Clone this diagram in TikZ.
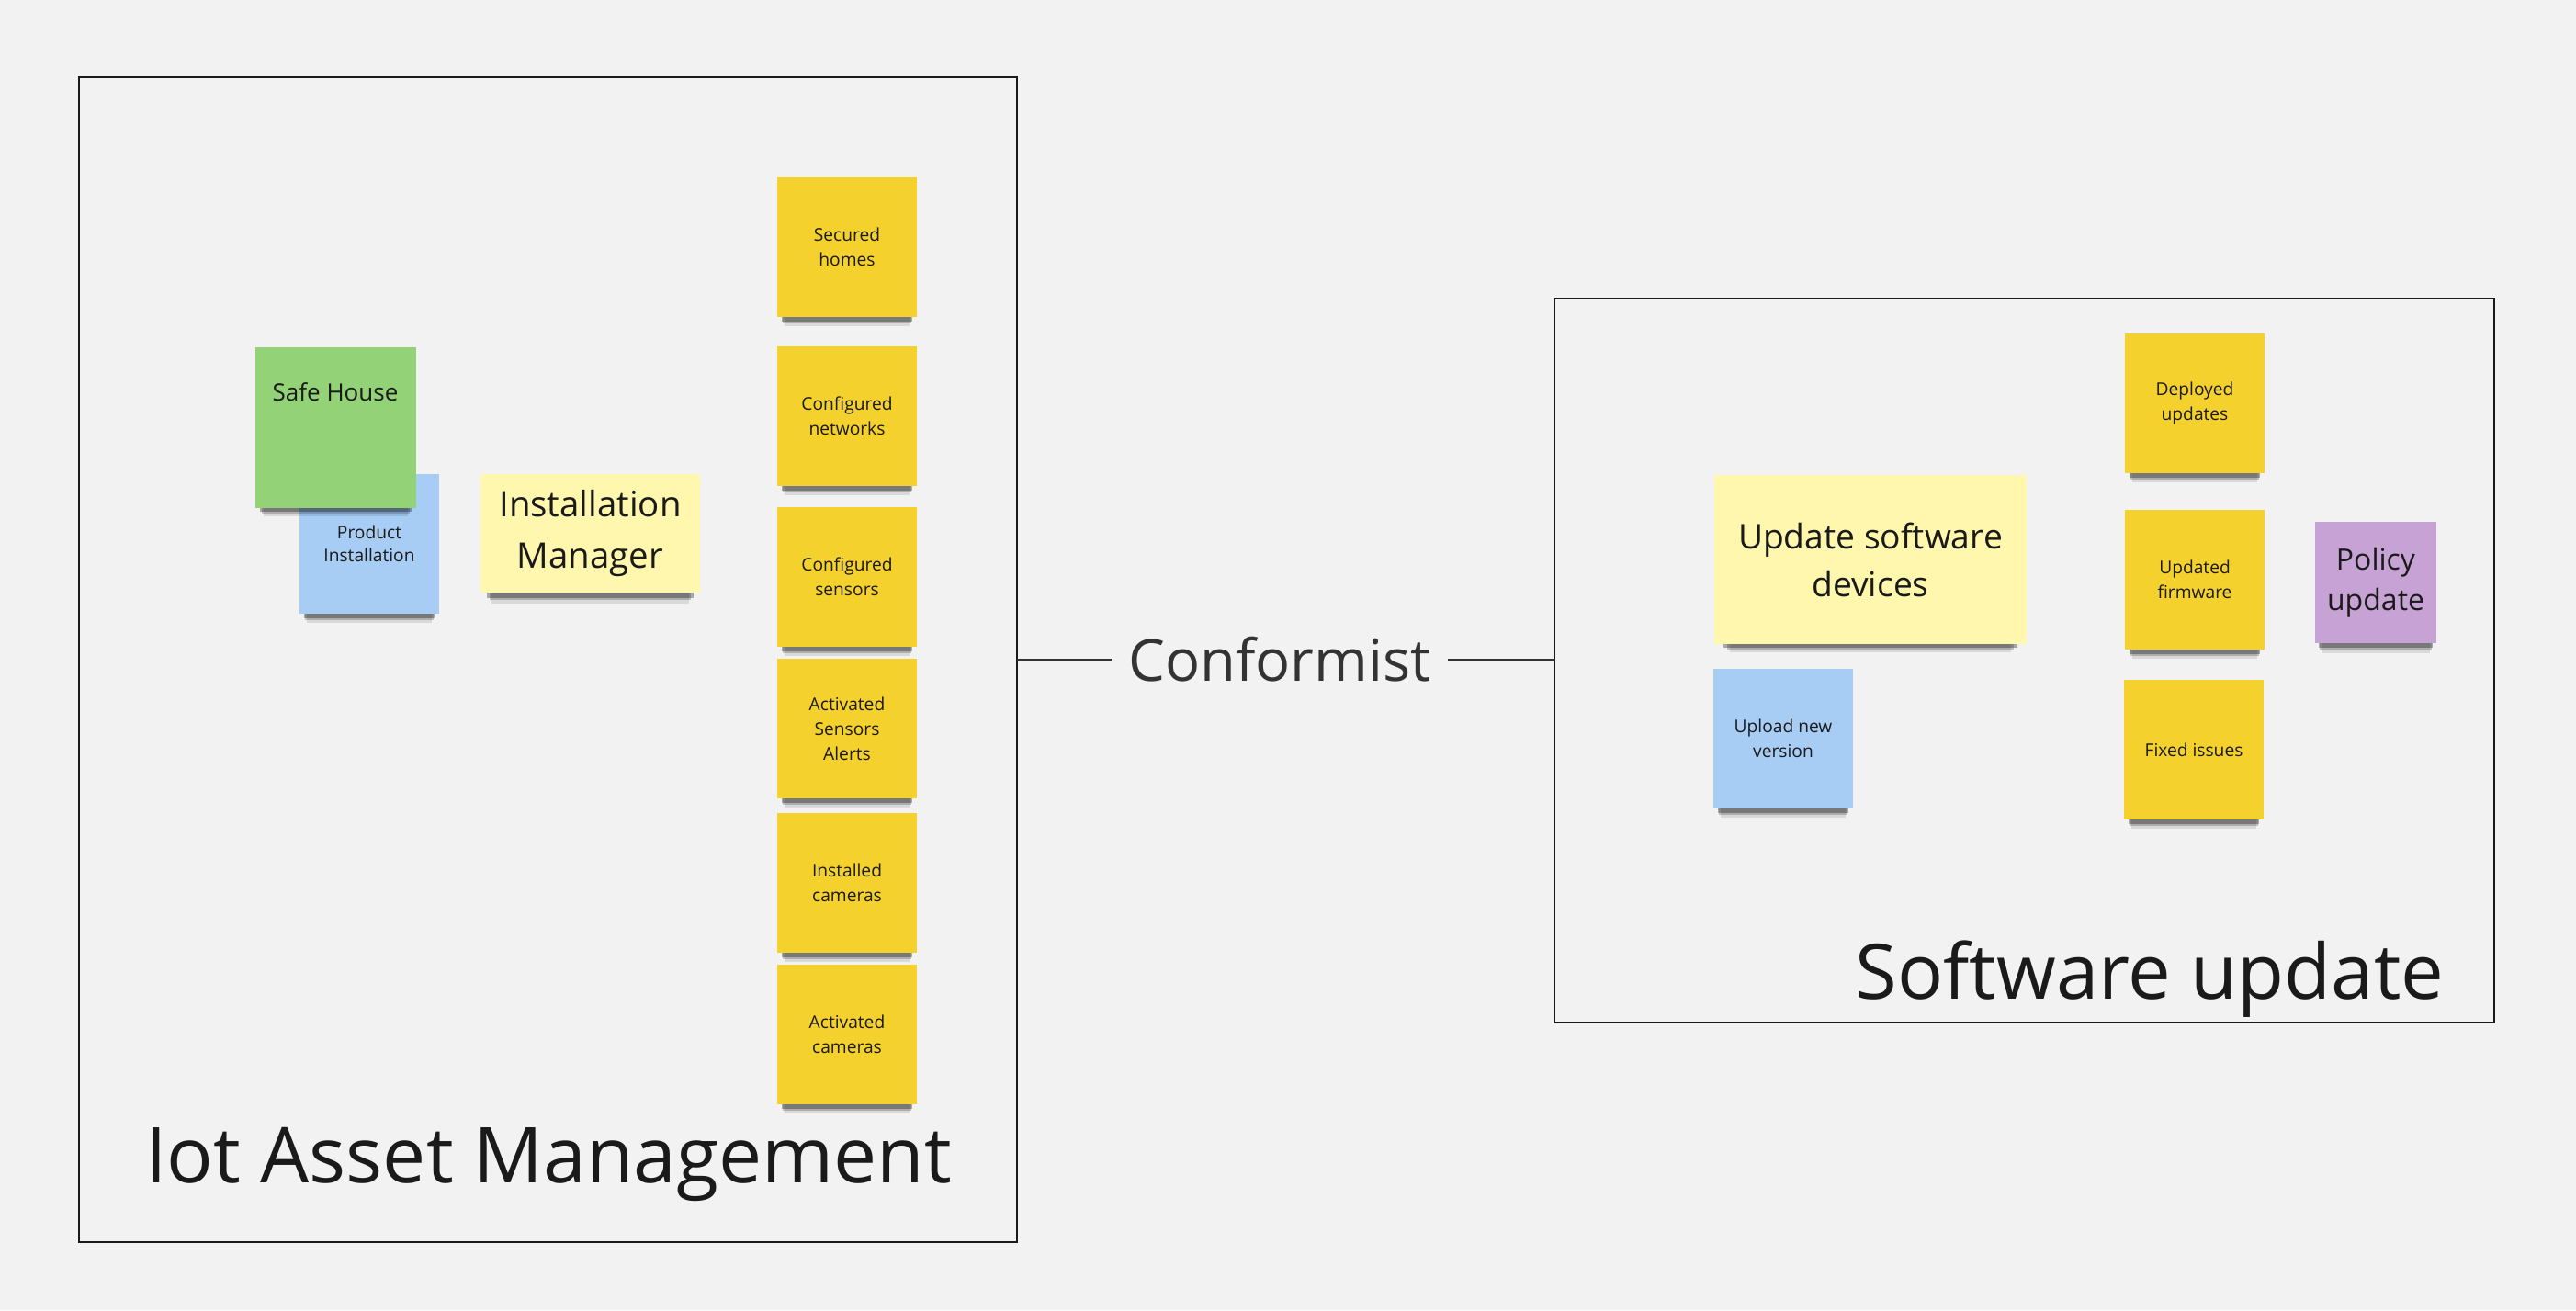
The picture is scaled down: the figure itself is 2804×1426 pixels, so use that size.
\documentclass[tikz,border=0pt]{standalone}
\usepackage{fontspec}
\setmainfont{Open Sans}
\usetikzlibrary{shadows}
\definecolor{bggray}{HTML}{F2F2F2}
\definecolor{inkblack}{HTML}{1A1A1A}
\definecolor{inkgray}{HTML}{333333}
\definecolor{stickyyellow}{HTML}{F5D12E}
\definecolor{paleyellow}{HTML}{FFF7AD}
\definecolor{stickygreen}{HTML}{93D276}
\definecolor{stickyblue}{HTML}{A8CDF5}
\definecolor{stickyviolet}{HTML}{C7A3D5}
\tikzset{
  sticky/.style={anchor=north west, inner sep=1pt, outer sep=0pt, align=center, text=inkblack,
    general shadow={fill=black, opacity=.10, shadow scale=.90, shadow yshift=-5pt},
    general shadow={fill=black, opacity=.20, shadow scale=.92, shadow yshift=-3.5pt},
    general shadow={fill=black, opacity=.30, shadow scale=.94, shadow yshift=-2.5pt}},
  smallsticky/.style={sticky, minimum width=38pt, minimum height=38pt, font=\fontsize{4.8}{6.75}\selectfont},
  boundary/.style={draw=inkblack, line width=0.5pt, anchor=north west, inner sep=0pt, outer sep=0pt},
  contextline/.style={draw=inkgray, line width=0.5pt},
}
\begin{document}
\begin{tikzpicture}[x=0.25pt,y=0.25pt,yscale=-1,xscale=1]
    %set diagram left start at 0, width 2804, height 1426
    \fill[bggray] (0,0) rectangle (2804,1426);
    \useasboundingbox (0,0) rectangle (2804,1426);

    %Shape: Rectangle [bounded context left]
    \node[boundary, minimum width=255.25pt, minimum height=317pt] (iotframe) at (86,84) {};
    %Shape: Rectangle [bounded context right]
    \node[boundary, minimum width=255.75pt, minimum height=197pt] (swframe) at (1692,325) {};

    %Straight Lines [relationship]
    \node[text=inkgray, inner sep=4.5pt, outer sep=0pt, font=\fontsize{15.8}{19}\selectfont] (conformist) at (1393,718) {Conformist};
    \draw[contextline] (iotframe.east) -- (conformist.west);
    \draw[contextline] (conformist.east) -- (conformist.east -| swframe.west);

    %Shape: Sticky notes [left]
    \node[smallsticky, fill=stickyblue, font=\fontsize{4.8}{6.25}\selectfont] (prodinst) at (326,516) {Product\\Installation};
    \node[sticky, fill=stickygreen, minimum width=43.75pt, minimum height=43.75pt] (safehouse) at (278,378) {};
    \node[sticky, fill=paleyellow, minimum width=59.75pt, minimum height=32.25pt, font=\fontsize{9.6}{14}\selectfont] (instmgr) at (523,516) {Installation\\Manager};
    \node[smallsticky, fill=stickyyellow] (secured) at (846,193) {Secured\\homes};
    \node[smallsticky, fill=stickyyellow] (cfgnet) at (846,377) {Configured\\networks};
    \node[smallsticky, fill=stickyyellow] (cfgsens) at (846,552) {Configured\\sensors};
    \node[smallsticky, fill=stickyyellow] (actalerts) at (846,717) {Activated\\Sensors\\Alerts};
    \node[smallsticky, fill=stickyyellow] (instcam) at (846,885) {Installed\\cameras};
    \node[smallsticky, fill=stickyyellow] (actcam) at (846,1050) {Activated\\cameras};

    %Shape: Sticky notes [right]
    \node[sticky, fill=paleyellow, minimum width=85pt, minimum height=46pt, font=\fontsize{9.3}{13}\selectfont] (updsw) at (1866,517) {Update software\\devices};
    \node[smallsticky, fill=stickyblue] (upload) at (1865,728) {Upload new\\version};
    \node[smallsticky, fill=stickyyellow] (deployed) at (2313,363) {Deployed\\updates};
    \node[smallsticky, fill=stickyyellow] (firmware) at (2313,555) {Updated\\firmware};
    \node[smallsticky, fill=stickyyellow] (fixed) at (2312,740) {Fixed issues};
    \node[sticky, fill=stickyviolet, minimum width=33pt, minimum height=33pt, font=\fontsize{8}{11}\selectfont] (policy) at (2520,568) {Policy\\update};

    % Text Node
    \node[text=inkblack, inner sep=0pt, font=\fontsize{6.5}{8}\selectfont] (safetxt) at (365,427) {Safe House};
    % Text Node
    \node[text=inkblack, anchor=base, inner sep=0pt, font=\fontsize{21}{25}\selectfont] (iottitle) at (597,1287) {Iot Asset Management};
    % Text Node
    \node[text=inkblack, anchor=base east, inner sep=0pt, font=\fontsize{20.8}{25}\selectfont] (swtitle) at (2661,1087) {Software update};

\end{tikzpicture}
\end{document}
